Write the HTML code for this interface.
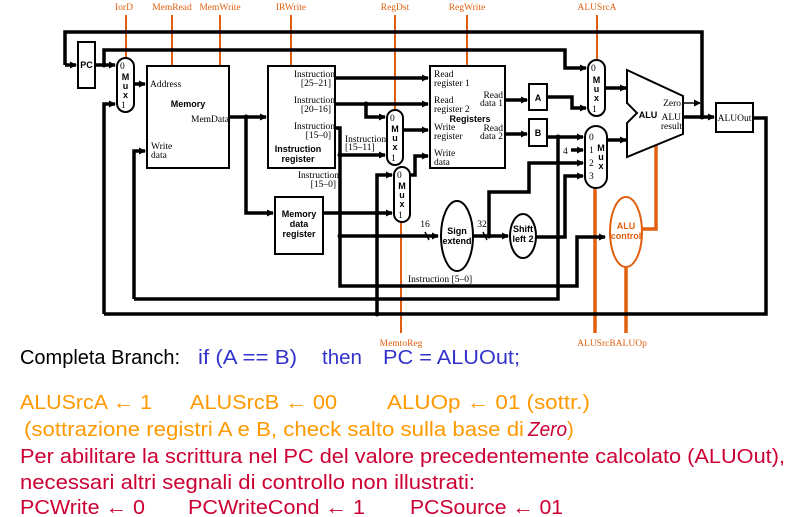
<!DOCTYPE html>
<html><head><meta charset="utf-8"><style>
html,body{margin:0;padding:0;background:#fff;width:811px;height:517px;overflow:hidden}
svg{display:block}
.s{font-family:"Liberation Serif",serif;font-size:9.5px;fill:#000}
.o{font-family:"Liberation Serif",serif;font-size:9.5px;fill:#e0600f}
.b{font-family:"Liberation Sans",sans-serif;font-size:9px;font-weight:bold;fill:#000}
.w{fill:none;stroke:#000;stroke-width:3.5}
.bx{fill:#fff;stroke:#000;stroke-width:2}
.or{fill:none;stroke:#e0600f;stroke-width:2}
.orw{fill:none;stroke:#e0600f;stroke-width:3.5}
.t{font-family:"Liberation Sans",sans-serif;font-size:20px}
</style></head><body>
<svg width="811" height="517" viewBox="0 0 811 517" xmlns="http://www.w3.org/2000/svg">
<defs>
<marker id="a" markerWidth="7" markerHeight="7" refX="6" refY="3.5" orient="auto" markerUnits="userSpaceOnUse"><path d="M0,0 L7,3.5 L0,7 z" fill="#000"/></marker>
</defs>
<text class="o" x="124" y="10" text-anchor="middle">IorD</text>
<text class="o" x="172" y="10" text-anchor="middle">MemRead</text>
<text class="o" x="220" y="10" text-anchor="middle">MemWrite</text>
<text class="o" x="291" y="10" text-anchor="middle">IRWrite</text>
<text class="o" x="395" y="10" text-anchor="middle">RegDst</text>
<text class="o" x="467" y="10" text-anchor="middle">RegWrite</text>
<text class="o" x="597" y="10" text-anchor="middle">ALUSrcA</text>
<text class="o" x="401" y="346" text-anchor="middle">MemtoReg</text>
<text class="o" x="612" y="346" text-anchor="middle">ALUSrcBALUOp</text>
<path class="or" d="M126,15V58 M172,15V66 M220,15V66 M291,15V66 M395,15V110 M467,15V66 M597,15V60 M401,222V333"/>
<path class="orw" d="M595,188V333 M626,265V333 M656,145V229H642"/>
<path class="w" d="M65,65V32H702V117"/>
<path class="w" d="M65,65H76" marker-end="url(#a)"/>
<path class="w" d="M95,65H115" marker-end="url(#a)"/>
<path class="w" d="M104,65V50H565V68H586" marker-end="url(#a)"/>
<path class="w" d="M104,314V104H115" marker-end="url(#a)"/>
<path class="w" d="M134,84H145" marker-end="url(#a)"/>
<path class="w" d="M134,299V151H145" marker-end="url(#a)"/>
<path class="w" d="M229,117H266" marker-end="url(#a)"/>
<path class="w" d="M246,117V213H273" marker-end="url(#a)"/>
<path class="w" d="M335,78H428" marker-end="url(#a)"/>
<path class="w" d="M335,104H428" marker-end="url(#a)"/>
<path class="w" d="M366,104V117H385" marker-end="url(#a)"/>
<path class="w" d="M335,128H340V286H577V237H605" marker-end="url(#a)"/>
<path class="w" d="M340,155H385" marker-end="url(#a)"/>
<path class="w" d="M340,236H420"/>
<path class="w" d="M403,130H428" marker-end="url(#a)"/>
<path class="w" d="M409,175H415V156H428" marker-end="url(#a)"/>
<path class="w" d="M377,314V175H392" marker-end="url(#a)"/>
<path class="w" d="M323,213H392" marker-end="url(#a)"/>
<path class="w" d="M420,236H438" marker-end="url(#a)"/>
<path class="w" d="M473,236H508" marker-end="url(#a)"/>
<path class="w" d="M489,236V192H529V163H583" marker-end="url(#a)"/>
<path class="w" d="M536,237H565V176H583" marker-end="url(#a)"/>
<path class="w" d="M505,100H527" marker-end="url(#a)"/>
<path class="w" d="M505,134H527" marker-end="url(#a)"/>
<path class="w" d="M547,97H572V108H586" marker-end="url(#a)"/>
<path class="w" d="M547,137H583" marker-end="url(#a)"/>
<path class="w" d="M558,137V299H134"/>
<path class="w" d="M571,150H583" marker-end="url(#a)"/>
<path class="w" d="M605,88H626" marker-end="url(#a)"/>
<path class="w" d="M607,140H626" marker-end="url(#a)"/>
<path class="w" d="M683,117H714" marker-end="url(#a)"/>
<path d="M683,103H700" stroke="#000" stroke-width="1.5" marker-end="url(#a)"/>
<path class="w" d="M753,118H766V314H104"/>
<path d="M425,232l4,8 M483,232l4,8" stroke="#000" stroke-width="1.5"/>
<g fill="#000"><circle cx="104" cy="65" r="2.5"/><circle cx="246" cy="117" r="2.5"/><circle cx="366" cy="104" r="2.5"/><circle cx="340" cy="155" r="2.5"/><circle cx="340" cy="236" r="2.5"/><circle cx="489" cy="236" r="2.5"/><circle cx="558" cy="137" r="2.5"/><circle cx="702" cy="117" r="2.5"/><circle cx="377" cy="314" r="2.5"/></g>
<rect class="bx" x="78" y="42" width="17" height="46"/>
<text class="b" x="86.5" y="68" text-anchor="middle">PC</text>
<rect class="bx" x="117" y="58" width="17" height="54" rx="8.5"/>
<text class="s" x="120" y="69">0</text><text class="b" x="125.5" y="80" text-anchor="middle">M</text><text class="b" x="125.5" y="89" text-anchor="middle">u</text><text class="b" x="125.5" y="98" text-anchor="middle">x</text><text class="s" x="121" y="108">1</text>
<rect class="bx" x="147" y="66" width="82" height="102"/>
<text class="s" x="150" y="87">Address</text>
<text class="b" x="188" y="107" text-anchor="middle">Memory</text>
<text class="s" x="229" y="122" text-anchor="end">MemData</text>
<text class="s" x="151" y="149">Write</text><text class="s" x="151" y="158">data</text>
<rect class="bx" x="268" y="66" width="67" height="102"/>
<text class="s" x="335" y="77" text-anchor="end">Instruction</text><text class="s" x="331" y="86" text-anchor="end">[25–21]</text>
<text class="s" x="335" y="103" text-anchor="end">Instruction</text><text class="s" x="331" y="112" text-anchor="end">[20–16]</text>
<text class="s" x="335" y="129" text-anchor="end">Instruction</text><text class="s" x="331" y="138" text-anchor="end">[15–0]</text>
<text class="b" x="298" y="152" text-anchor="middle">Instruction</text><text class="b" x="298" y="162" text-anchor="middle">register</text>
<text class="s" x="339" y="178" text-anchor="end">Instruction</text><text class="s" x="336" y="187" text-anchor="end">[15–0]</text>
<text class="s" x="345" y="142">Instruction</text><text class="s" x="345" y="150">[15–11]</text>
<rect class="bx" x="275" y="197" width="48" height="57"/>
<text class="b" x="299" y="217" text-anchor="middle">Memory</text><text class="b" x="299" y="227" text-anchor="middle">data</text><text class="b" x="299" y="237" text-anchor="middle">register</text>
<rect class="bx" x="387" y="110" width="16" height="55" rx="8"/>
<text class="s" x="390" y="121">0</text><text class="b" x="395" y="132" text-anchor="middle">M</text><text class="b" x="395" y="141" text-anchor="middle">u</text><text class="b" x="395" y="150" text-anchor="middle">x</text><text class="s" x="391" y="161">1</text>
<rect class="bx" x="394" y="167" width="16" height="55" rx="8"/>
<text class="s" x="397" y="178">0</text><text class="b" x="402" y="189" text-anchor="middle">M</text><text class="b" x="402" y="198" text-anchor="middle">u</text><text class="b" x="402" y="207" text-anchor="middle">x</text><text class="s" x="398" y="218">1</text>
<rect class="bx" x="430" y="66" width="75" height="102"/>
<text class="s" x="434" y="77">Read</text><text class="s" x="434" y="86">register 1</text>
<text class="s" x="434" y="103">Read</text><text class="s" x="434" y="112">register 2</text>
<text class="b" x="470" y="122" text-anchor="middle">Registers</text>
<text class="s" x="434" y="130">Write</text><text class="s" x="434" y="139">register</text>
<text class="s" x="434" y="156">Write</text><text class="s" x="434" y="165">data</text>
<text class="s" x="503" y="98" text-anchor="end">Read</text><text class="s" x="503" y="106" text-anchor="end">data 1</text>
<text class="s" x="503" y="131" text-anchor="end">Read</text><text class="s" x="503" y="139" text-anchor="end">data 2</text>
<rect class="bx" x="529" y="84" width="18" height="26"/><text class="b" x="538" y="101" text-anchor="middle">A</text>
<rect class="bx" x="529" y="119" width="18" height="27"/><text class="b" x="538" y="136" text-anchor="middle">B</text>
<rect class="bx" x="588" y="60" width="17" height="56" rx="8.5"/>
<text class="s" x="591" y="71">0</text><text class="b" x="596.5" y="83" text-anchor="middle">M</text><text class="b" x="596.5" y="92" text-anchor="middle">u</text><text class="b" x="596.5" y="101" text-anchor="middle">x</text><text class="s" x="592" y="112">1</text>
<rect class="bx" x="585" y="126" width="22" height="62" rx="11"/>
<text class="s" x="589" y="140">0</text><text class="s" x="589" y="153">1</text><text class="s" x="589" y="166">2</text><text class="s" x="589" y="179">3</text>
<text class="b" x="601" y="151" text-anchor="middle">M</text><text class="b" x="601" y="160" text-anchor="middle">u</text><text class="b" x="601" y="169" text-anchor="middle">x</text>
<text class="s" x="563" y="154">4</text>
<path d="M627,70L683,96L683,134L627,157L627,123L637,113L627,103Z" fill="#fff" stroke="#000" stroke-width="2"/>
<text class="b" x="648" y="118" text-anchor="middle">ALU</text>
<text class="s" x="681" y="106" text-anchor="end">Zero</text>
<text class="s" x="681" y="120" text-anchor="end">ALU</text><text class="s" x="682" y="129" text-anchor="end">result</text>
<rect class="bx" x="716" y="103" width="37" height="29"/>
<text class="s" x="734.5" y="121" text-anchor="middle">ALUOut</text>
<ellipse cx="457" cy="236" rx="16" ry="35" class="bx"/>
<text class="b" x="457" y="234" text-anchor="middle">Sign</text><text class="b" x="457" y="244" text-anchor="middle">extend</text>
<ellipse cx="523" cy="236" rx="13" ry="22" class="bx"/>
<text class="b" x="523" y="232" text-anchor="middle">Shift</text><text class="b" x="523" y="242" text-anchor="middle">left 2</text>
<ellipse cx="626" cy="232" rx="16" ry="35" fill="#fff" stroke="#e0600f" stroke-width="2"/>
<text class="b" x="626" y="229" text-anchor="middle" style="fill:#e0600f">ALU</text><text class="b" x="626" y="239" text-anchor="middle" style="fill:#e0600f">control</text>
<text class="s" x="425" y="227" text-anchor="middle">16</text>
<text class="s" x="482" y="227" text-anchor="middle">32</text>
<text class="s" x="408" y="282">Instruction [5–0]</text>
<text class="t" y="364"><tspan x="20" fill="#000" textLength="160" lengthAdjust="spacingAndGlyphs">Completa Branch:</tspan><tspan x="198" fill="#3333cc" textLength="99" lengthAdjust="spacingAndGlyphs">if (A == B)</tspan><tspan x="322" fill="#3333cc" textLength="40" lengthAdjust="spacingAndGlyphs">then</tspan><tspan x="383" fill="#3333cc" textLength="137" lengthAdjust="spacingAndGlyphs">PC = ALUOut;</tspan></text>
<text class="t" y="409" fill="#ff9900"><tspan x="20" textLength="132" lengthAdjust="spacingAndGlyphs">ALUSrcA ← 1</tspan><tspan x="190" textLength="147" lengthAdjust="spacingAndGlyphs">ALUSrcB ← 00</tspan><tspan x="387" textLength="203" lengthAdjust="spacingAndGlyphs">ALUOp ← 01  (sottr.)</tspan></text>
<text class="t" y="436" fill="#ff9900"><tspan x="24" textLength="500" lengthAdjust="spacingAndGlyphs">(sottrazione registri A e B, check salto sulla base di</tspan><tspan x="528" fill="#cc0033" font-style="italic" textLength="39" lengthAdjust="spacingAndGlyphs">Zero</tspan><tspan x="567">)</tspan></text>
<text class="t" y="463" fill="#cc0033" x="20" textLength="765" lengthAdjust="spacingAndGlyphs">Per abilitare la scrittura nel PC del valore precedentemente calcolato (ALUOut),</text>
<text class="t" y="489" fill="#cc0033" x="20" textLength="455" lengthAdjust="spacingAndGlyphs">necessari altri segnali di  controllo non illustrati:</text>
<text class="t" y="514" fill="#cc0033"><tspan x="20" textLength="125" lengthAdjust="spacingAndGlyphs">PCWrite ← 0</tspan><tspan x="188" textLength="177" lengthAdjust="spacingAndGlyphs">PCWriteCond ← 1</tspan><tspan x="410" textLength="153" lengthAdjust="spacingAndGlyphs">PCSource ← 01</tspan></text>
</svg>
</body></html>
